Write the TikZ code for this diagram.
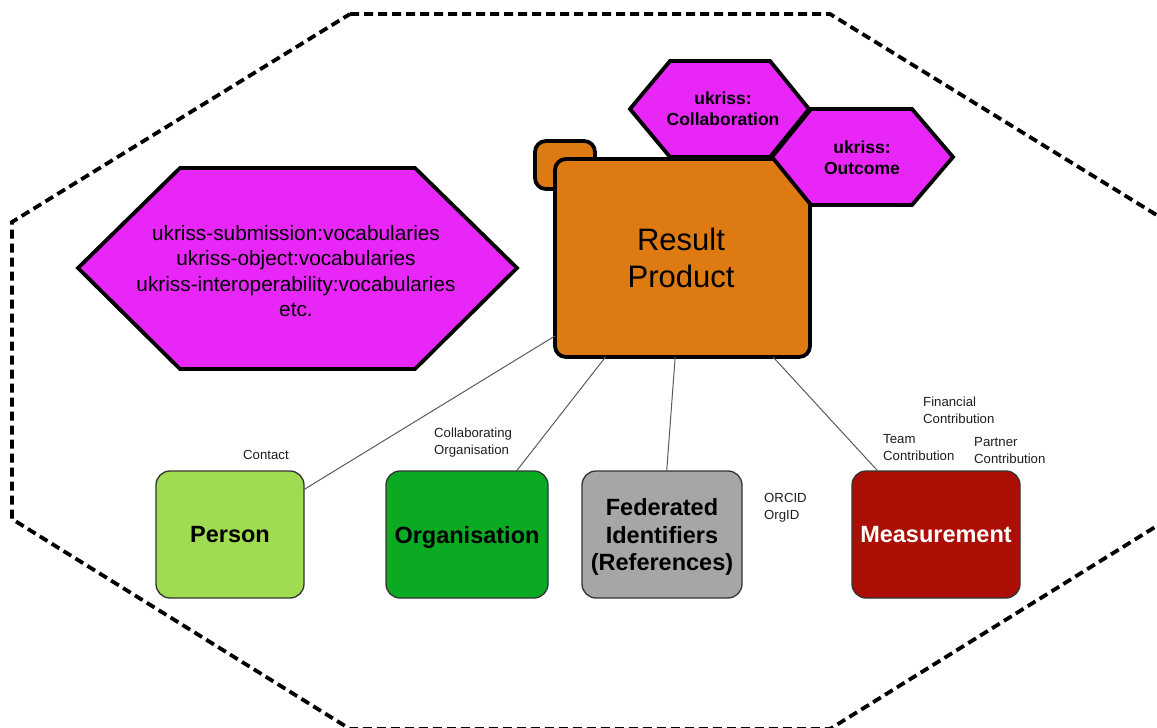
\documentclass[tikz,border=0pt]{standalone}
\usepackage{fontspec}
\setmainfont{Liberation Sans}
\definecolor{hexmag}{RGB}{232,38,248}
\definecolor{rporange}{RGB}{222,122,18}
\definecolor{persongreen}{RGB}{160,220,82}
\definecolor{orggreen}{RGB}{10,170,34}
\definecolor{fedgray}{RGB}{166,166,166}
\definecolor{measred}{RGB}{170,14,4}
\definecolor{linkgray}{RGB}{90,90,90}
\definecolor{labelgray}{RGB}{30,30,30}
\begin{document}
\begin{tikzpicture}[x=1pt,y=-1pt,
  hexshape/.style={draw=black, line width=3.8pt, fill=hexmag, line join=miter},
  hextext/.style={inner sep=0pt, align=center, font=\fontsize{17.5}{21}\selectfont\bfseries},
  orangebox/.style={draw=black, line width=3.8pt, fill=rporange, rounded corners=11pt, inner sep=0pt, outer sep=0pt},
  entity/.style={draw=black!80, line width=1.3pt, rounded corners=14pt, inner sep=0pt, outer sep=0pt,
    minimum height=127pt, text depth=0pt, align=center, font=\fontsize{23.5}{27.5}\selectfont\bfseries},
  link/.style={draw=linkgray, line width=1pt},
  edgelabel/.style={inner sep=0pt, anchor=west, align=left, text=labelgray, font=\fontsize{13.2}{17}\selectfont},
  boundary/.style={draw=black, line width=3.8pt, dash pattern=on 9pt off 5pt}
]
\useasboundingbox (0,0) rectangle (1157,728);

% dashed outer boundary, cut by the page edges
\begin{scope}
  \clip (0,0) rectangle (1157,728);
  \draw[boundary] (350,14) -- (830,14) -- (1168,222) -- (1168,519) -- (830,729)
    -- (350,729) -- (12,519) -- (12,222) -- cycle;
\end{scope}

% vocabularies hexagon
\draw[hexshape] (78,268) -- (180,168) -- (415,168) -- (517,268) -- (415,369) -- (180,369) -- cycle;
\node[inner sep=0pt, align=center, font=\fontsize{20.8}{25.4}\selectfont] (vocab) at (296,271)
  {ukriss-submission:vocabularies\\ukriss-object:vocabularies\\ukriss-interoperability:vocabularies\\etc.};

% result product with its tab
\node[orangebox, minimum width=60pt, minimum height=48pt] (tab) at (565,165) {};
\node[orangebox, minimum width=255pt, minimum height=198pt] (rp) at (682.5,258) {};
\node[inner sep=0pt, align=center, font=\fontsize{31}{37}\selectfont] (rptext) at (681,258) {Result\\Product};

% linked classes
\draw[hexshape] (630,109) -- (670,61) -- (770,61) -- (809,109) -- (770,157) -- (670,157) -- cycle;
\node[hextext] (collab) at (723,108.5) {ukriss:\\Collaboration};
\draw[hexshape] (772,157) -- (811,109) -- (912,109) -- (953,157) -- (912,205) -- (811,205) -- cycle;
\node[hextext] (outcome) at (862,158) {ukriss:\\Outcome};

% entities
\node[entity, fill=persongreen, minimum width=148pt] (person) at (230,534.5) {Person};
\node[entity, fill=orggreen, minimum width=162pt] (org) at (467,534.5) {Organisation};
\node[entity, fill=fedgray, minimum width=160pt] (fed) at (662,534.5) {Federated\\Identifiers\\(References)};
\node[entity, fill=measred, minimum width=168pt, text=white] (meas) at (936,534.5) {Measurement};

% relations
\draw[link] (rp) -- (person);
\draw[link] (rp) -- (org);
\draw[link] (rp) -- (fed);
\draw[link] (rp) -- (meas);

% relation labels
\node[edgelabel] (lcontact) at (243,455) {Contact};
\node[edgelabel] (lcollab) at (434,442.5) {Collaborating\\Organisation};
\node[edgelabel] (lorcid) at (764,508) {ORCID\\OrgID};
\node[edgelabel] (lfin) at (923,410) {Financial\\Contribution};
\node[edgelabel] (lteam) at (883,448) {Team\\Contribution};
\node[edgelabel] (lpartner) at (974,450.5) {Partner\\Contribution};
\end{tikzpicture}
\end{document}
